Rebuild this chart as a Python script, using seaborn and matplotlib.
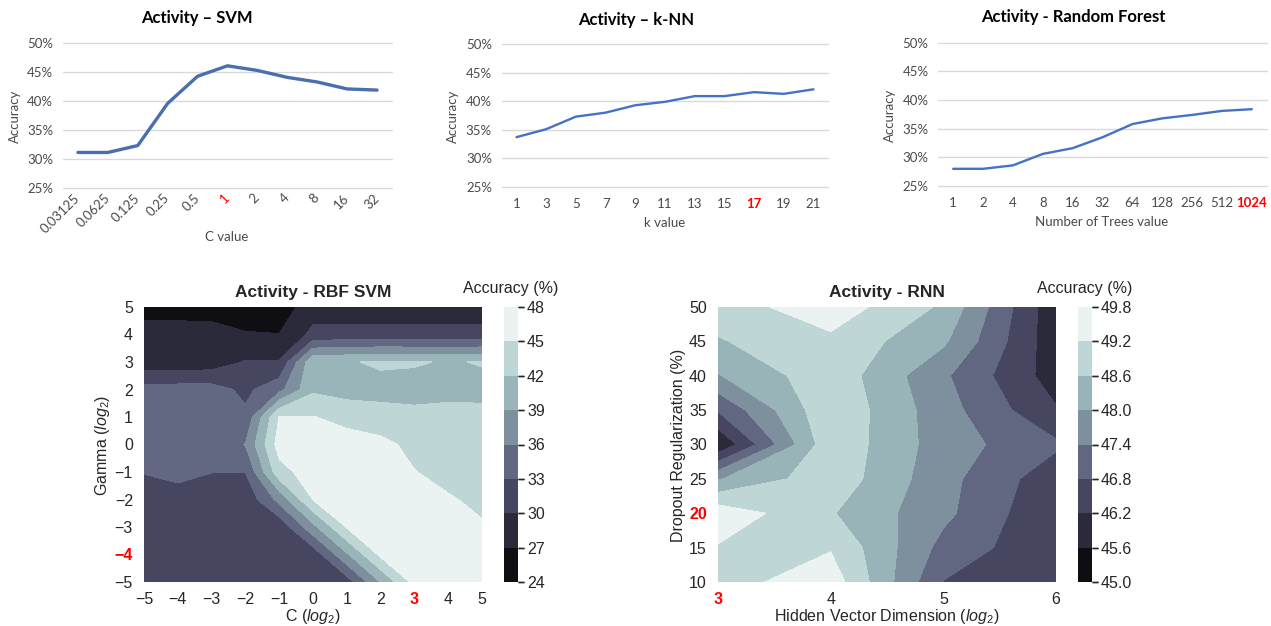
import numpy as np
import pandas as pd
import matplotlib
matplotlib.use("Agg")
import matplotlib.pyplot as plt
import matplotlib.transforms as mtransforms
from matplotlib.markers import TICKRIGHT
import seaborn as sns
from matplotlib.ticker import FuncFormatter, FormatStrFormatter

# ---------------- line-chart data (accuracy, %) ----------------
svm_c_labels = ["0.03125", "0.0625", "0.125", "0.25", "0.5", "1", "2", "4", "8", "16", "32"]
svm_acc = [31.1, 31.1, 32.3, 39.6, 44.3, 46.1, 45.3, 44.1, 43.3, 42.1, 41.9]

knn_k_labels = ["1", "3", "5", "7", "9", "11", "13", "15", "17", "19", "21"]
knn_acc = [33.7, 35.1, 37.3, 38.0, 39.3, 39.9, 40.9, 40.9, 41.6, 41.3, 42.1]

rf_tree_labels = ["1", "2", "4", "8", "16", "32", "64", "128", "256", "512", "1024"]
rf_acc = [28.0, 28.0, 28.6, 30.6, 31.6, 33.5, 35.8, 36.8, 37.4, 38.1, 38.4]

acc_ticks = [25, 30, 35, 40, 45, 50]

# ---------------- RBF SVM grid search (accuracy, %) ----------------
rbf_c_log2 = [-5, -4, -3, -2, -1, 0, 1, 2, 3, 4, 5]
rbf_gamma_log2 = [5, 4, 3, 2, 1, 0, -1, -2, -3, -4, -5]
# one row per gamma value (top to bottom), one column per C value
rbf_acc_grid = [
    [25.5, 25.5, 25.5, 25.5, 25.5, 28.5, 28.5, 28.5, 28.5, 28.5, 28.5],
    [28.5, 28.5, 28.3, 27.2, 27.05, 30.8, 30.9, 30.8, 30.8, 30.9, 30.9],
    [28.2, 28.2, 28.3, 30.2, 30.2, 41.3, 41.8, 42.3, 42.2, 41.8, 42.15],
    [34.2, 34.2, 34.2, 32.3, 35.0, 41.5, 40.8, 41.3, 41.2, 41.3, 41.3],
    [34.5, 34.6, 34.5, 33.6, 45.1, 45.1, 44.0, 42.8, 42.6, 42.8, 42.7],
    [34.4, 34.6, 34.5, 36.1, 46.3, 47.0, 46.4, 46.0, 44.0, 43.5, 43.3],
    [33.1, 34.0, 33.05, 33.05, 43.9, 46.5, 47.0, 46.5, 45.1, 44.0, 43.8],
    [31.8, 31.5, 31.6, 30.8, 36.9, 45.05, 47.0, 47.0, 46.2, 45.3, 44.3],
    [31.6, 31.5, 31.4, 31.2, 30.7, 38.1, 45.2, 47.2, 47.0, 46.5, 45.3],
    [31.5, 31.4, 31.3, 31.2, 31.3, 31.0, 38.6, 45.6, 47.3, 47.0, 46.8],
    [31.4, 31.3, 31.2, 31.1, 31.4, 31.3, 31.5, 39.1, 46.0, 47.3, 47.0],
]
rbf_levels = [24, 27, 30, 33, 36, 39, 42, 45, 48]

# ---------------- RNN grid search (accuracy, %) ----------------
rnn_hidden_log2 = [3, 4, 5, 6]
rnn_dropout = [50, 45, 40, 35, 30, 25, 20, 15, 10]
rnn_acc_grid = [
    [48.9, 49.55, 48.5, 45.75],
    [48.55, 49.06, 48.1, 45.8],
    [47.96, 49.0, 47.5, 45.9],
    [46.85, 49.1, 47.65, 46.25],
    [45.65, 49.05, 47.7, 46.9],
    [47.95, 49.0, 47.6, 46.42],
    [49.6, 48.65, 47.55, 46.25],
    [49.15, 49.15, 47.2, 46.3],
    [48.95, 49.55, 46.78, 46.4],
]
rnn_levels = [45.0, 45.6, 46.2, 46.8, 47.4, 48.0, 48.6, 49.2, 49.8]

# ---------------- figure setup ----------------
sns.set_theme(style="ticks")
plt.rcParams["font.family"] = ["Liberation Sans", "DejaVu Sans"]
plt.rcParams["mathtext.fontset"] = "custom"
plt.rcParams["mathtext.rm"] = "Liberation Sans"
plt.rcParams["mathtext.it"] = "Liberation Sans:italic"

W, H = 1271, 626
fig = plt.figure(figsize=(W / 100, H / 100), dpi=100)
fig.patch.set_facecolor("white")


def px_axes(x0, y0, x1, y1):
    return fig.add_axes([x0 / W, 1 - y1 / H, (x1 - x0) / W, (y1 - y0) / H])


def px_text(x, y, s, **kw):
    kw.setdefault("ha", "center")
    kw.setdefault("va", "center")
    return fig.text(x / W, 1 - y / H, s, **kw)


XL_FONT = ["Lato", "DejaVu Sans"]
XL_GREY = "#4a4a4a"
XL_SIZE = 9.5


def line_panel(box, labels, values, color, lw, red_idx, red_bold, rotate):
    ax = px_axes(*box)
    pos = np.arange(len(labels))
    df = pd.DataFrame({"pos": pos, "acc": values})
    sns.lineplot(data=df, x="pos", y="acc", ax=ax, color=color, linewidth=lw)
    ax.set_xlim(-0.5, len(labels) - 0.5)
    ax.set_ylim(25, 50)
    ax.set_yticks(acc_ticks)
    ax.yaxis.set_major_formatter(FuncFormatter(lambda v, _: f"{v:.0f}%"))
    ax.set_xticks(pos)
    ax.set_xticklabels(labels)
    ax.set_xlabel("")
    ax.set_ylabel("")
    ax.set_axisbelow(True)
    ax.grid(axis="y", color="#d9d9d9", linewidth=1)
    ax.grid(axis="x", visible=False)
    for ln in ax.get_ygridlines():
        ln.set_clip_on(False)
    for s in ax.spines.values():
        s.set_visible(False)
    ax.tick_params(axis="both", length=0, labelsize=XL_SIZE, colors=XL_GREY,
                   left=False, right=False, bottom=False)
    ax.tick_params(axis="y", pad=7)
    ax.tick_params(axis="x", pad=8)
    for t in ax.get_xticklabels() + ax.get_yticklabels():
        t.set_fontfamily(XL_FONT)
    if rotate:
        for t in ax.get_xticklabels():
            t.set_rotation(45)
            t.set_ha("right")
            t.set_va("center")
            t.set_rotation_mode("anchor")
        ax.tick_params(axis="x", pad=6)
    lab = ax.get_xticklabels()[red_idx]
    lab.set_color("red")
    if red_bold:
        lab.set_fontweight("bold")
    return ax


# ---- top row: Excel-style line charts ----
line_panel((63, 43.3, 392, 187.7), svm_c_labels, svm_acc, "#4a6eae", 2.4, 5, False, True)
line_panel((501.7, 44.3, 828.3, 186.7), knn_k_labels, knn_acc, "#4472c4", 1.7, 8, True, False)
line_panel((938.3, 42.7, 1266.7, 186.0), rf_tree_labels, rf_acc, "#4472c4", 1.7, 10, True, False)

title_kw = dict(fontsize=12, fontweight="bold", color="black", family=XL_FONT)
px_text(197, 18, "Activity – SVM", **title_kw)
px_text(636, 20, "Activity – k-NN", **title_kw)
px_text(1073, 17, "Activity - Random Forest", **title_kw)

lab_kw = dict(fontsize=XL_SIZE, color=XL_GREY, family=XL_FONT)
px_text(15, 116, "Accuracy", rotation=90, **lab_kw)
px_text(453, 116, "Accuracy", rotation=90, **lab_kw)
px_text(890, 115, "Accuracy", rotation=90, **lab_kw)
px_text(227, 237, "C value", **lab_kw)
px_text(665, 223, "k value", **lab_kw)
px_text(1102, 222, "Number of Trees value", **lab_kw)


# ---- bottom row: grid-search contour maps ----
def contour_panel(box, cbox, xs, ys, grid, levels, fmt, xticks, yticks,
                  red_x, red_y, ylab_pad):
    ax = px_axes(*box)
    X, Y = np.meshgrid(xs, ys)
    Z = np.array(grid)
    cs = ax.contourf(X, Y, Z, levels=levels, cmap="bone")
    ax.set_xlim(min(xs), max(xs))
    ax.set_ylim(min(ys), max(ys))
    ax.set_xticks(xticks)
    ax.set_yticks(yticks)
    for s in ax.spines.values():
        s.set_visible(False)
    ax.tick_params(axis="both", length=0, labelsize=11.5, colors="#262626",
                   left=False, right=False, bottom=False)
    ax.tick_params(axis="x", pad=7)
    ax.tick_params(axis="y", pad=ylab_pad)
    for t in ax.get_xticklabels():
        if t.get_text().replace("\u2212", "-") == str(red_x):
            t.set_color("red")
            t.set_fontweight("bold")
    for t in ax.get_yticklabels():
        if t.get_text().replace("\u2212", "-") == str(red_y):
            t.set_color("red")
            t.set_fontweight("bold")

    cax = px_axes(*cbox)
    cb = fig.colorbar(cs, cax=cax, ticks=levels, format=FormatStrFormatter(fmt))
    cb.outline.set_visible(False)
    cax.tick_params(axis="y", which="major", right=True, left=False,
                    length=4, width=1.0, color="#262626", labelsize=11.5,
                    labelcolor="#262626", pad=2.5, direction="out")
    cax.tick_params(axis="y", which="minor", length=0)
    # short dashes on the right edge of the colour bar, one per level
    trans = mtransforms.blended_transform_factory(cax.transAxes, cax.transData)
    cax.plot([1.0] * len(levels), levels, linestyle="none", marker=TICKRIGHT,
             markersize=4, markeredgewidth=1.0, color="#262626",
             transform=trans, clip_on=False)
    cax.set_ylim(min(levels), max(levels))
    return ax


contour_panel((144, 307, 482, 582), (504, 307, 518, 582),
              rbf_c_log2, rbf_gamma_log2, rbf_acc_grid, rbf_levels, "%d",
              rbf_c_log2, rbf_gamma_log2, 3, -4, 8)
contour_panel((718, 307, 1056, 582), (1078, 307, 1092, 582),
              rnn_hidden_log2, rnn_dropout, rnn_acc_grid, rnn_levels, "%.1f",
              rnn_hidden_log2, sorted(rnn_dropout), 3, 20, 8)

big_title = dict(fontsize=12.5, fontweight="bold", color="#262626")
px_text(313, 292, "Activity - RBF SVM", **big_title)
px_text(887, 292, "Activity - RNN", **big_title)
px_text(511, 288, "Accuracy (%)", fontsize=11.5, color="#262626")
px_text(1085, 288, "Accuracy (%)", fontsize=11.5, color="#262626")

axlab = dict(fontsize=11.5, color="#262626")
px_text(313, 616, r"C ($log_2$)", **axlab)
px_text(102, 445, r"Gamma ($log_2$)", rotation=90, **axlab)
px_text(887, 616, r"Hidden Vector Dimension ($log_2$)", **axlab)
px_text(679, 445, "Dropout Regularization (%)", rotation=90, **axlab)

fig.savefig("out.png", dpi=100, facecolor="white")
